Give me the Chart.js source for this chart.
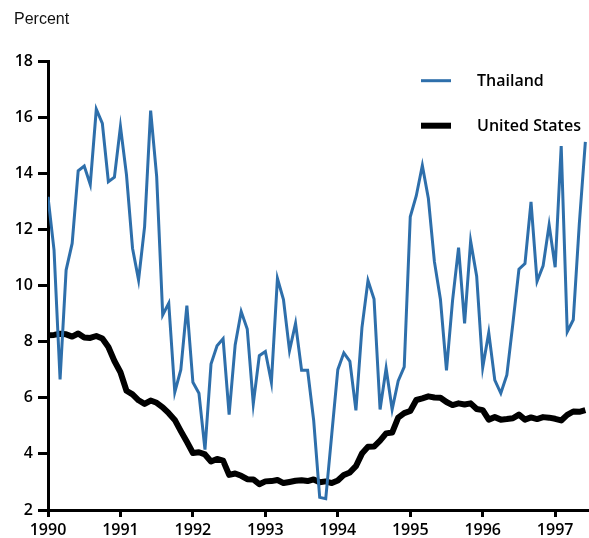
<!DOCTYPE html>
<html>
<head>
<meta charset="utf-8">
<script src="https://cdn.jsdelivr.net/npm/chart.js@4/dist/chart.umd.min.js"></script>
<style>
  html, body { margin: 0; padding: 0; background: #fff; }
  #c { display: block; }
</style>
</head>
<body>
<canvas id="c" width="589" height="538"></canvas>
<script>
// Monthly series, January 1990 through June 1997
const startYear = 1990;
const yearTicks = [1990, 1991, 1992, 1993, 1994, 1995, 1996, 1997];
const yTicks = [2, 4, 6, 8, 10, 12, 14, 16, 18];
const seriesNames = ["Thailand", "United States"];

const thailand = [
  13.16, 11.26, 6.65, 10.55, 11.5, 14.09, 14.26, 13.6, 16.28, 15.78, 13.7, 13.86,
  15.66, 13.94, 11.33, 10.2, 12.1, 16.23, 13.88, 8.95, 9.37, 6.2, 7.0, 9.28,
  6.55, 6.16, 4.15, 7.2, 7.85, 8.1, 5.4, 7.88, 9.07, 8.45, 5.78, 7.5,
  7.65, 6.55, 10.25, 9.5, 7.68, 8.65, 6.98, 6.98, 5.2, 2.45, 2.4, 4.7,
  7.0, 7.6, 7.3, 5.55, 8.5, 10.18, 9.52, 5.58, 7.05, 5.58, 6.6, 7.1,
  12.45, 13.2, 14.28, 13.1, 10.85, 9.5, 6.98, 9.45, 11.35, 8.65, 11.58, 10.33,
  7.08, 8.32, 6.63, 6.16, 6.81, 8.65, 10.58, 10.78, 12.98, 10.15, 10.7, 12.16,
  10.65, 14.97, 8.35, 8.78, 12.2, 15.12
];

const unitedStates = [
  8.23, 8.24, 8.28, 8.26, 8.18, 8.29, 8.15, 8.13, 8.20, 8.11, 7.81, 7.31,
  6.91, 6.25, 6.12, 5.91, 5.78, 5.90, 5.82, 5.66, 5.45, 5.21, 4.81, 4.43,
  4.03, 4.06, 3.98, 3.73, 3.82, 3.76, 3.25, 3.30, 3.22, 3.10, 3.09, 2.92,
  3.02, 3.03, 3.07, 2.96, 3.00, 3.04, 3.06, 3.03, 3.09, 2.99, 3.02, 2.96,
  3.05, 3.25, 3.34, 3.56, 4.01, 4.25, 4.26, 4.47, 4.73, 4.76, 5.29, 5.45,
  5.53, 5.92, 5.98, 6.05, 6.01, 6.00, 5.85, 5.74, 5.80, 5.76, 5.80, 5.60,
  5.56, 5.22, 5.31, 5.22, 5.24, 5.27, 5.40, 5.22, 5.30, 5.24, 5.31, 5.29,
  5.25, 5.19, 5.39, 5.51, 5.50, 5.56
];

const toPoints = arr => arr.map((v, i) => ({ x: startYear + i / 12, y: v }));

const BLUE = '#2e6fab';
const tickFont = { family: 'Open Sans', size: 16, weight: '600' };

const overlay = {
  id: 'overlay',
  afterDraw(chart) {
    const ctx = chart.ctx;
    ctx.save();
    // axis title
    ctx.fillStyle = '#111';
    ctx.font = '16px "Liberation Sans", Arial, sans-serif';
    ctx.textBaseline = 'middle';
    ctx.textAlign = 'left';
    ctx.fillText('Percent', 14, 20);
    // legend
    const ds = chart.data.datasets;
    const rows = [80.7, 125.7];
    ds.forEach((d, i) => {
      ctx.beginPath();
      ctx.strokeStyle = d.borderColor;
      ctx.lineWidth = d.borderWidth;
      ctx.lineCap = 'butt';
      ctx.moveTo(421, rows[i]);
      ctx.lineTo(451, rows[i]);
      ctx.stroke();
      ctx.fillStyle = '#000';
      ctx.font = '600 16px "Open Sans", sans-serif';
      ctx.textBaseline = 'middle';
      ctx.fillText(d.label, 477, rows[i] + 1);
    });
    ctx.restore();
  }
};

new Chart(document.getElementById('c'), {
  type: 'line',
  data: {
    datasets: [
      {
        label: seriesNames[0],
        data: toPoints(thailand),
        borderColor: BLUE,
        borderWidth: 3,
        pointRadius: 0,
        tension: 0,
        borderJoinStyle: 'miter',
        fill: false
      },
      {
        label: seriesNames[1],
        data: toPoints(unitedStates),
        borderColor: '#000',
        borderWidth: 6,
        pointRadius: 0,
        tension: 0,
        borderJoinStyle: 'round',
        fill: false
      }
    ]
  },
  options: {
    responsive: false,
    animation: false,
    events: [],
    layout: { padding: { top: 61, right: 0, bottom: 0, left: 0 } },
    plugins: { legend: { display: false }, tooltip: { enabled: false } },
    scales: {
      x: {
        type: 'linear',
        min: 1990,
        max: 1997.467,
        afterBuildTicks: s => { s.ticks = yearTicks.map(v => ({ value: v })); },
        afterFit: s => { s.height = 28; },
        ticks: {
          autoSkip: false,
          maxRotation: 0,
          color: '#000',
          font: tickFont,
          padding: 4,
          callback: v => String(v)
        },
        border: { display: true, color: '#000', width: 3 },
        grid: { display: true, drawOnChartArea: false, drawTicks: true, tickLength: 7, tickWidth: 3, tickColor: '#000' }
      },
      y: {
        type: 'linear',
        min: 2,
        max: 18,
        afterBuildTicks: s => { s.ticks = yTicks.map(v => ({ value: v })); },
        afterFit: s => { s.width = 48; },
        ticks: {
          color: '#000',
          font: tickFont,
          padding: 5
        },
        border: { display: true, color: '#000', width: 3 },
        grid: { display: true, drawOnChartArea: false, drawTicks: true, tickLength: 10, tickWidth: 3, tickColor: '#000' }
      }
    }
  },
  plugins: [overlay]
});
</script>
</body>
</html>
